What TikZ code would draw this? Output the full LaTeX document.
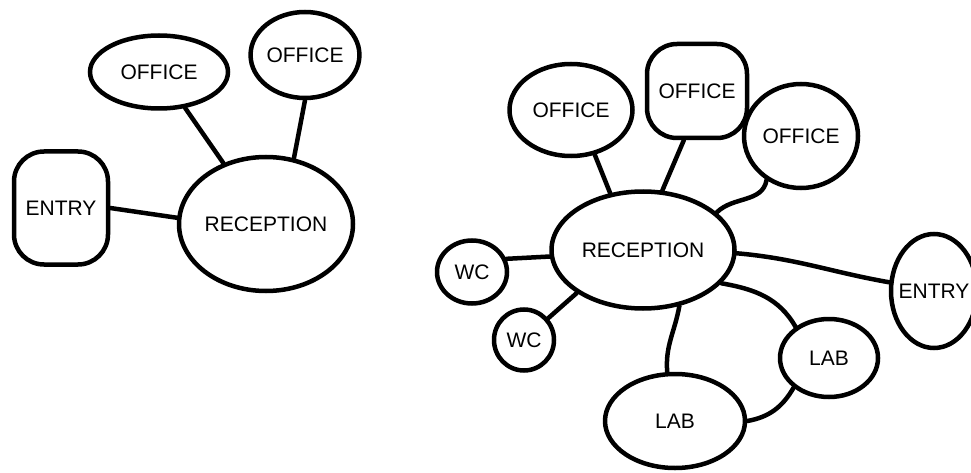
\documentclass[tikz,border=0pt]{standalone}
\usepackage{fontspec}
\newfontfamily\handfont{Liberation Sans}
\usetikzlibrary{shapes.geometric}
\definecolor{ink}{RGB}{0,0,0}
\tikzset{
  bub/.style={ellipse, draw=ink, line width=4.5pt, inner sep=0pt,
              font=\handfont\fontsize{21}{21}\selectfont, text=ink},
  sqb/.style={rectangle, rounded corners=30pt, draw=ink, line width=4.5pt, inner sep=0pt,
              font=\handfont\fontsize{21}{21}\selectfont, text=ink},
  lnk/.style={ink, line width=4.5pt, line cap=round},
}

\begin{document}
\begin{tikzpicture}[x=1pt, y=1pt]
    \useasboundingbox (0,0) rectangle (971,472);
    % small plan
    \node[bub, minimum width=138pt, minimum height=73pt] (ofcA) at (159,400) {OFFICE};
    \node[bub, minimum width=96pt, minimum height=86pt] (ofcB) at (305,417) {OFFICE};
    \node[sqb, minimum width=94pt, minimum height=113pt] (entA) at (61,264) {ENTRY};
    \node[bub, minimum width=174pt, minimum height=134pt] (recA) at (266,248) {RECEPTION};
    \draw[lnk] (ofcA.-54) -- (recA.125);
    \draw[lnk] (ofcB.-90) -- (recA.67);
    \draw[lnk] (entA.east) -- (recA.176);
    % large plan
    \node[bub, minimum width=123pt, minimum height=92pt] (ofcC) at (571,362) {OFFICE};
    \node[sqb, minimum width=100pt, minimum height=94pt] (ofcD) at (697,381) {OFFICE};
    \node[bub, minimum width=114pt, minimum height=104pt] (ofcE) at (801,336) {OFFICE};
    \node[bub, minimum width=183pt, minimum height=117pt] (recB) at (643,222) {RECEPTION};
    \node[bub, minimum width=70pt, minimum height=63pt] (wcA) at (472,200) {WC};
    \node[bub, minimum width=60pt, minimum height=61pt] (wcB) at (524,132) {WC};
    \node[bub, inner xsep=-10pt, minimum width=86pt, minimum height=114pt] (entB) at (934,181) {ENTRY};
    \node[bub, minimum width=98pt, minimum height=78pt] (labA) at (829,114) {LAB};
    \node[bub, minimum width=140pt, minimum height=94pt] (labB) at (675,51) {LAB};
    \draw[lnk] (ofcC.-62) -- (recB.120);
    \draw[lnk] (ofcD.-105) -- (recB.72);
    \draw[lnk] (ofcE.-128) to[out=-100, in=45] (recB.27);
    \draw[lnk] (wcA.21) -- (recB.184);
    \draw[lnk] (wcB.42) -- (recB.-147);
    \draw[lnk] (recB.-2) to[out=-5, in=170] (entB.169);
    \draw[lnk] (recB.-57) to[out=-100, in=95] (labB.99);
    \draw[lnk] (recB.-23) to[out=-10, in=120] (labA.137);
    \draw[lnk] (labA.-140) to[out=-120, in=10] (labB.0);
\end{tikzpicture}
\end{document}
